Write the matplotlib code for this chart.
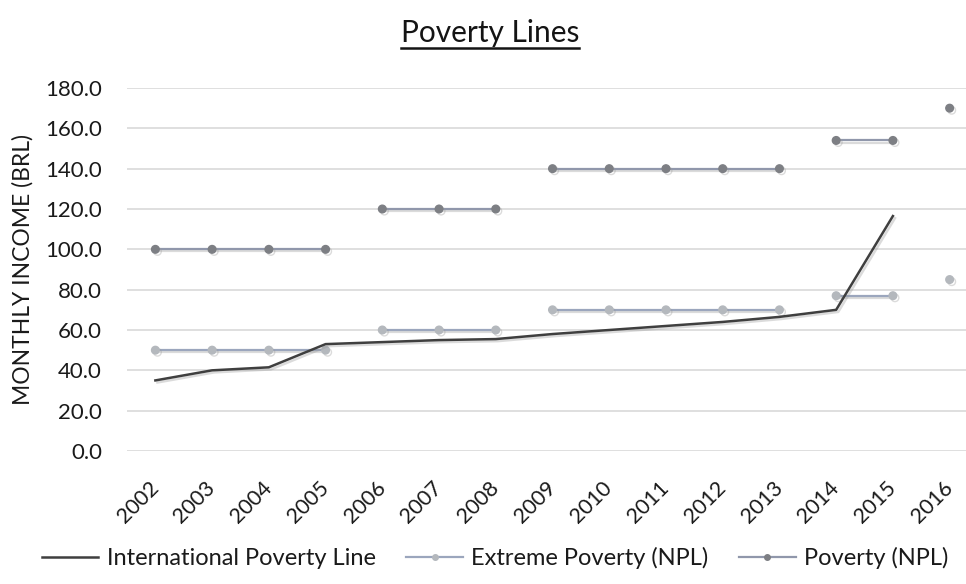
import matplotlib
matplotlib.use("Agg")
import matplotlib.pyplot as plt
from matplotlib.lines import Line2D
import matplotlib.patheffects as pe

years = [str(y) for y in range(2002, 2017)]
intl_line = [35, 40, 41.5, 53, 54, 55, 55.5, 58, 60, 62, 64, 66.5, 70, 116.5, None]
extreme_npl = [50, 50, 50, 50, 60, 60, 60, 70, 70, 70, 70, 70, 77, 77, 85]
poverty_npl = [100, 100, 100, 100, 120, 120, 120, 140, 140, 140, 140, 140, 154, 154, 170]
# NPL values are reported in periods; segments are not joined across periods
npl_period = [1, 1, 1, 1, 2, 2, 2, 3, 3, 3, 3, 3, 4, 4, 5]

FONT = ["Lato", "DejaVu Sans"]
plt.rcParams["font.family"] = FONT

fig = plt.figure(figsize=(9.66, 5.84), dpi=100)
ax = fig.add_axes([127/966, 133/584, 851/966, 363/584])

x = list(range(len(years)))
shadow = [pe.SimpleLineShadow(offset=(1.5, -1.5), shadow_color="#9a9a9a", alpha=0.35), pe.Normal()]

TXT = "#1a1a1a"
c_int = "#3f3f3f"
c_ext_line = "#9ba6bd"
c_ext_mark = "#b4b8bd"
c_pov_line = "#9097ab"
c_pov_mark = "#7d7f84"

xi = [xx for xx, v in zip(x, intl_line) if v is not None]
yi = [v for v in intl_line if v is not None]
ax.plot(xi, yi, color=c_int, lw=1.8, zorder=5, path_effects=shadow)

for p in sorted(set(npl_period)):
    idx = [i for i in x if npl_period[i] == p]
    ax.plot(idx, [extreme_npl[i] for i in idx], color=c_ext_line, lw=1.6, marker="o",
            ms=5.5, mfc=c_ext_mark, mec=c_ext_mark, zorder=4, path_effects=shadow)
    ax.plot(idx, [poverty_npl[i] for i in idx], color=c_pov_line, lw=1.6, marker="o",
            ms=5.5, mfc=c_pov_mark, mec=c_pov_mark, zorder=4, path_effects=shadow)

ax.set_xlim(-0.5, len(years) - 0.5)
ax.set_ylim(0, 180)
ax.set_yticks(range(0, 181, 20))
ax.set_yticklabels([f"{v:.1f}" for v in range(0, 181, 20)], fontsize=16, color=TXT)
ax.set_xticks(x)
ax.set_xticklabels(years, rotation=45, ha="right", va="center", rotation_mode="anchor",
                   fontsize=15.5, color=TXT)
ax.tick_params(axis="both", length=0)
ax.tick_params(axis="y", pad=18)
ax.tick_params(axis="x", pad=24)
ax.yaxis.grid(True, color="#dcdcdc", lw=1.3)
ax.set_axisbelow(True)
for s in ax.spines.values():
    s.set_visible(False)

ax.set_ylabel("MONTHLY INCOME (BRL)", fontsize=16.5, color=TXT)
ax.yaxis.set_label_coords(-(127 - 34)/851, 0.5)

title = fig.text(490/966, 1 - 33/584, "Poverty Lines", fontsize=21.5, ha="center", va="center", color="#141414")

handles = [
    Line2D([], [], color=c_int, lw=1.8),
    Line2D([], [], color=c_ext_line, lw=1.6, marker="o", ms=4, mfc=c_ext_mark, mec=c_ext_mark),
    Line2D([], [], color=c_pov_line, lw=1.6, marker="o", ms=4, mfc=c_pov_mark, mec=c_pov_mark),
]
labels = ["International Poverty Line", "Extreme Poverty (NPL)", "Poverty (NPL)"]
fig.legend(handles, labels, loc="center", bbox_to_anchor=(495/966, 1 - 558/584), ncol=3,
           frameon=False, fontsize=17, handlelength=2.4, columnspacing=1.3, handletextpad=0.35,
           labelcolor=TXT)

fig.canvas.draw()
r = fig.canvas.get_renderer()
bb = title.get_window_extent(renderer=r)
y_ul = bb.y0 - 1
fig.add_artist(Line2D([bb.x0, bb.x1], [y_ul, y_ul], transform=None, color="#141414", lw=1.8))

fig.savefig("out.png", dpi=100)
